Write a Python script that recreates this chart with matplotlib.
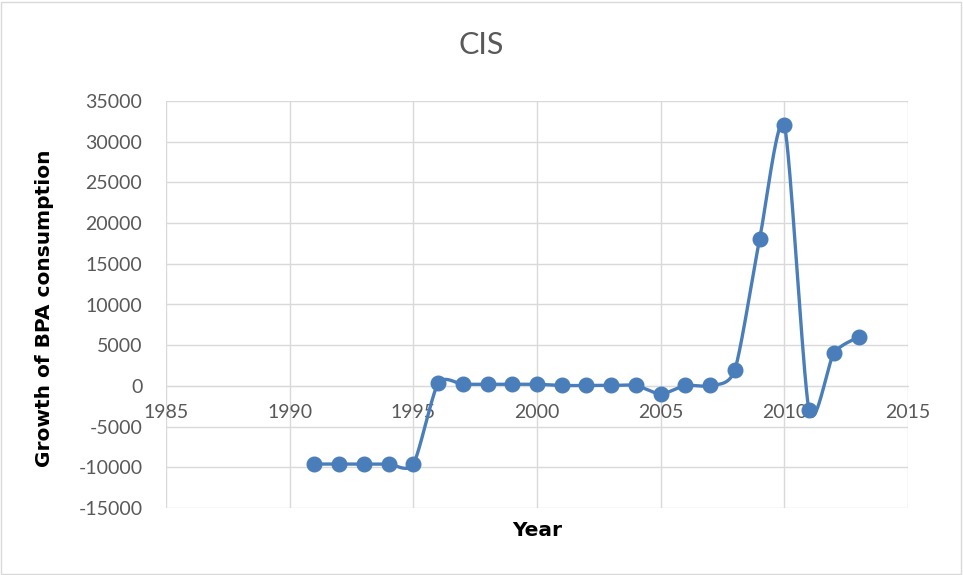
import numpy as np
import matplotlib.pyplot as plt
from matplotlib.patches import Rectangle

# Data
years = [1991, 1992, 1993, 1994, 1995, 1996, 1997, 1998, 1999, 2000, 2001, 2002,
         2003, 2004, 2005, 2006, 2007, 2008, 2009, 2010, 2011, 2012, 2013]
growth = [-9600, -9600, -9600, -9600, -9600, 300, 200, 200, 200, 200, 50, 50,
          50, 50, -1000, 50, 50, 2000, 18000, 32000, -3000, 4000, 6000]

TITLE = 'CIS'
X_LABEL = 'Year'
Y_LABEL = 'Growth of BPA consumption'

LINE_COLOR = '#4a7ebb'
TEXT_COLOR = '#595959'
GRID_COLOR = '#d9d9d9'

plt.rcParams['font.family'] = ['Lato', 'DejaVu Sans']
plt.rcParams['axes.unicode_minus'] = False


# Smoothed line through the points (cubic Bezier segments)
def smooth_curve(x, y, k=0.12, steps=40):
    x = np.asarray(x, dtype=float)
    y = np.asarray(y, dtype=float)
    px = np.concatenate([[x[0]], x, [x[-1]]])
    py = np.concatenate([[y[0]], y, [y[-1]]])
    xs, ys = [], []
    t = np.linspace(0, 1, steps)
    for i in range(1, len(px) - 2):
        p0 = np.array([px[i], py[i]])
        p3 = np.array([px[i + 1], py[i + 1]])
        p1 = p0 + (np.array([px[i + 1], py[i + 1]]) - np.array([px[i - 1], py[i - 1]])) * k
        p2 = p3 - (np.array([px[i + 2], py[i + 2]]) - np.array([px[i], py[i]])) * k
        b = ((1 - t) ** 3)[:, None] * p0 + (3 * (1 - t) ** 2 * t)[:, None] * p1 \
            + (3 * (1 - t) * t ** 2)[:, None] * p2 + (t ** 3)[:, None] * p3
        xs.extend(b[:, 0])
        ys.extend(b[:, 1])
    return np.array(xs), np.array(ys)


fig = plt.figure(figsize=(9.63, 5.75), dpi=100)
ax = fig.add_axes([166 / 963, 1 - 508 / 575, (908 - 166) / 963, (508 - 101) / 575])

# Figure border
fig.patches.append(Rectangle((0.001, 0.002), 0.997, 0.995, transform=fig.transFigure,
                             fill=False, edgecolor='#d9d9d9', linewidth=1))

sx, sy = smooth_curve(years, growth)
ax.plot(sx, sy, color=LINE_COLOR, linewidth=2.4, zorder=3)
ax.plot(years, growth, 'o', color=LINE_COLOR, markersize=10.5, zorder=4)

ax.set_xlim(1985, 2015)
ax.set_ylim(-15000, 35000)
ax.set_xticks(range(1985, 2016, 5))
ax.set_yticks(range(-15000, 35001, 5000))

ax.grid(True, color=GRID_COLOR, linewidth=1)
ax.set_axisbelow(True)
for side in ['top', 'right', 'left']:
    ax.spines[side].set_visible(False)
ax.spines['bottom'].set_position(('data', 0))
ax.spines['bottom'].set_color(GRID_COLOR)

ax.tick_params(axis='both', length=0, labelsize=14, labelcolor=TEXT_COLOR)
ax.tick_params(axis='x', pad=13)
ax.tick_params(axis='y', pad=17)

fig.text(0.5, 1 - 45 / 575, TITLE, fontsize=22, color=TEXT_COLOR, ha='center', va='center')
ax.set_ylabel(Y_LABEL, fontsize=14.5, fontweight='bold', family='DejaVu Sans')
ax.yaxis.set_label_coords(45 / 963, 1 - 308 / 575, transform=fig.transFigure)
ax.yaxis.label.set_va('center')
ax.set_xlabel(X_LABEL, fontsize=14.5, fontweight='bold', family='DejaVu Sans')
ax.xaxis.set_label_coords(537 / 963, 1 - 530 / 575, transform=fig.transFigure)
ax.xaxis.label.set_va('center')

fig.savefig('out.png', dpi=100)
